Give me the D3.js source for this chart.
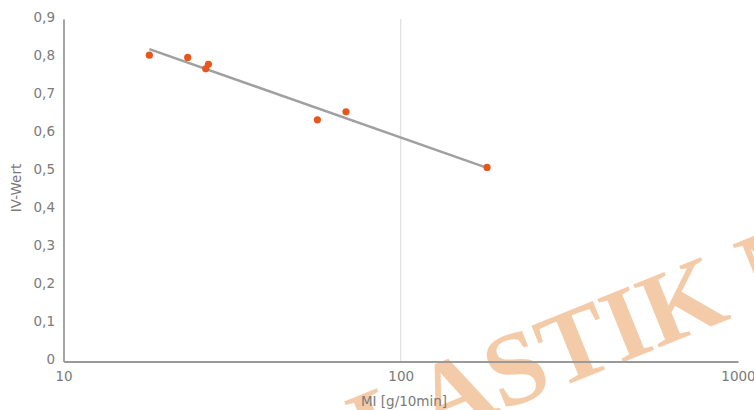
<!DOCTYPE html>
<html>
<head>
<meta charset="utf-8">
<script src="https://cdn.jsdelivr.net/npm/d3@7"></script>
<style>
  html, body { margin: 0; padding: 0; background: #fff; }
  svg { display: block; }
</style>
</head>
<body>
<svg id="chart" width="754" height="410"></svg>
<script>
// ---- data ----
const miValues = [17.97, 23.35, 26.4, 26.9, 56.6, 68.8, 180.3];   // MI [g/10min]
const ivValues = [0.805, 0.799, 0.769, 0.781, 0.635, 0.656, 0.510]; // IV-Wert
const xTicks = [10, 100, 1000];
const xTickLabels = ["10", "100", "1000"];
const yTicks = [0, 0.1, 0.2, 0.3, 0.4, 0.5, 0.6, 0.7, 0.8, 0.9];
const yTickLabels = ["0", "0,1", "0,2", "0,3", "0,4", "0,5", "0,6", "0,7", "0,8", "0,9"];
const xTitle = "MI [g/10min]";
const yTitle = "IV-Wert";
const watermark = "PLASTIK M";

(function () {
// ---- layout ----
const svg = d3.select("#chart");
const pLeft = 63.5, pRight = 738, pTop = 19, pBottom = 361.5;
const x = d3.scaleLog().domain([10, 1000]).range([pLeft, pRight]);
const y = d3.scaleLinear().domain([0, 0.9]).range([pBottom, pTop]);
const font = "'DejaVu Sans', Verdana, sans-serif";
const textColor = "#7a7a7a";

// watermark (behind the chart marks)
svg.append("text")
  .attr("transform", "translate(309,489) rotate(-22)")
  .attr("fill", "#eba870").attr("fill-opacity", 0.6)
  .style("font-family", "'Liberation Serif', 'Times New Roman', serif")
  .style("font-weight", "bold").style("font-size", "104px")
  .text(watermark);

// vertical gridlines (interior ticks)
svg.append("g").selectAll("line")
  .data(xTicks.filter(t => t > 10 && t < 1000))
  .join("line")
  .attr("x1", d => x(d)).attr("x2", d => x(d))
  .attr("y1", pTop).attr("y2", pBottom)
  .attr("stroke", "#d9d9d9").attr("stroke-width", 1);

// axes
const xAxis = d3.axisBottom(x).tickValues(xTicks)
  .tickFormat((d, i) => xTickLabels[i]).tickSize(0).tickPadding(10);
const gx = svg.append("g").attr("transform", `translate(0,${pBottom})`).call(xAxis);
gx.select(".domain").attr("stroke", "#9a9a9a").attr("stroke-width", 1.8);
gx.selectAll("text").attr("fill", textColor).style("font-family", font).style("font-size", "13.5px");

const yAxis = d3.axisLeft(y).tickValues(yTicks)
  .tickFormat((d, i) => yTickLabels[i]).tickSize(0).tickPadding(8.5);
const gy = svg.append("g").attr("transform", `translate(${pLeft},0)`).call(yAxis);
gy.select(".domain").attr("stroke", "#9a9a9a").attr("stroke-width", 1.8);
gy.selectAll("text").attr("fill", textColor).style("font-family", font).style("font-size", "13.5px")
  .attr("dy", "0.15em");

// axis titles
svg.append("text")
  .attr("x", 404).attr("y", 406)
  .attr("text-anchor", "middle")
  .attr("fill", textColor).style("font-family", font).style("font-size", "13.5px")
  .text(xTitle);
svg.append("text")
  .attr("transform", `translate(21,188) rotate(-90)`)
  .attr("text-anchor", "middle")
  .attr("fill", textColor).style("font-family", font).style("font-size", "13.5px")
  .text(yTitle);

// logarithmic trendline (least squares in log10 x)
const lx = miValues.map(v => Math.log10(v));
const mx = d3.mean(lx), my = d3.mean(ivValues);
const slope = d3.sum(lx.map((v, i) => (v - mx) * (ivValues[i] - my))) /
              d3.sum(lx.map(v => (v - mx) * (v - mx)));
const icpt = my - slope * mx;
const xMin = d3.min(miValues), xMax = d3.max(miValues);
svg.append("line")
  .attr("x1", x(xMin)).attr("y1", y(icpt + slope * Math.log10(xMin)))
  .attr("x2", x(xMax)).attr("y2", y(icpt + slope * Math.log10(xMax)))
  .attr("stroke", "#a0a0a0").attr("stroke-width", 2.5);

// points
svg.append("g").selectAll("circle")
  .data(miValues.map((v, i) => [v, ivValues[i]]))
  .join("circle")
  .attr("cx", d => x(d[0])).attr("cy", d => y(d[1]))
  .attr("r", 3.6).attr("fill", "#e8561c");
})();
</script>
</body>
</html>
